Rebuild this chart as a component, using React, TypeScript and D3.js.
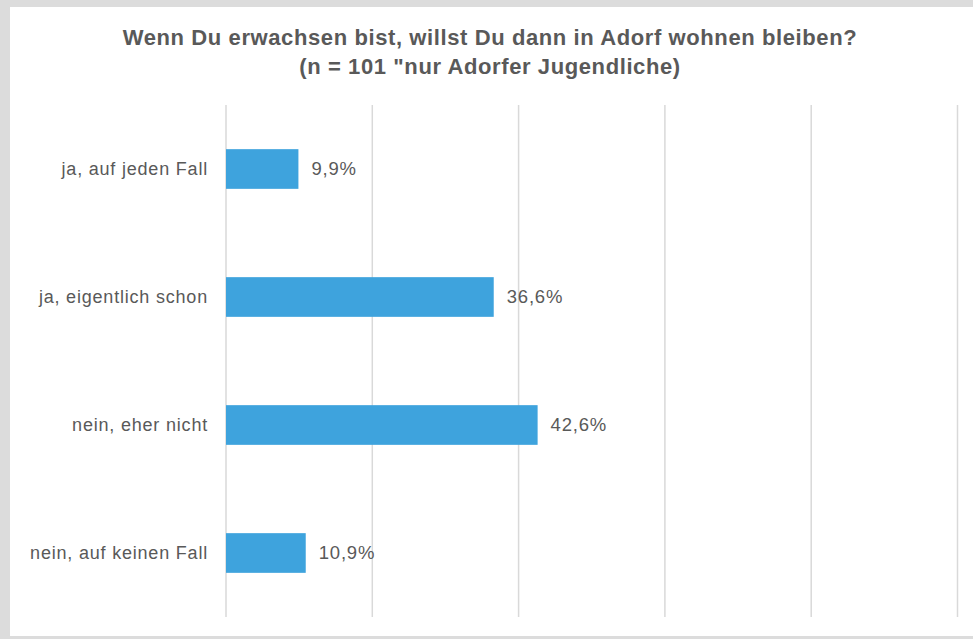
import React from "react";
import * as d3 from "d3";

const categories = ["ja, auf jeden Fall", "ja, eigentlich schon", "nein, eher nicht", "nein, auf keinen Fall"];
const values = [9.9, 36.6, 42.6, 10.9];
const valueLabels = ["9,9%", "36,6%", "42,6%", "10,9%"];
const gridTicks = [0, 20, 40, 60, 80, 100];
const titleLines = ["Wenn Du erwachsen bist, willst Du dann in Adorf wohnen bleiben?", "(n = 101 \"nur Adorfer Jugendliche)"];

export default function App() {
  const W = 973, H = 639;
  const x = d3.scaleLinear().domain([0, 100]).range([226, 957.5]);
  const y = d3.scaleBand<string>().domain(categories).range([105, 617]).paddingInner(0.69).paddingOuter(0.345);
  const font = "'Liberation Sans', Arial, sans-serif";
  const textColor = "#595959";
  return (
    <svg width={W} height={H} style={{ position: "absolute", left: 0, top: 0, display: "block" }}>
      <rect x={0} y={0} width={W} height={H} fill="#dcdcdc" />
      <rect x={10} y={7} width={W - 10} height={629} fill="#ffffff" />
      {titleLines.map((t, i) => (
        <text key={i} x={490} y={45 + i * 28.5} textAnchor="middle" fontFamily={font} fontWeight="bold" fontSize={22} letterSpacing={0.6} fill={textColor}>{t}</text>
      ))}
      {gridTicks.map((t) => (
        <line key={t} x1={x(t)} x2={x(t)} y1={105} y2={617} stroke="#d9d9d9" strokeWidth={1.5} />
      ))}
      {categories.map((c, i) => {
        const yy = y(c)!;
        const bw = y.bandwidth();
        return (
          <g key={c}>
            <rect x={x(0)} y={yy} width={x(values[i]) - x(0)} height={bw} fill="#3ea3dd" />
            <text x={208} y={yy + bw / 2} dy="0.35em" textAnchor="end" fontFamily={font} fontSize={18} letterSpacing={0.8} fill={textColor}>{c}</text>
            <text x={x(values[i]) + 13} y={yy + bw / 2} dy="0.35em" textAnchor="start" fontFamily={font} fontSize={18.5} letterSpacing={0.8} fill={textColor}>{valueLabels[i]}</text>
          </g>
        );
      })}
    </svg>
  );
}
